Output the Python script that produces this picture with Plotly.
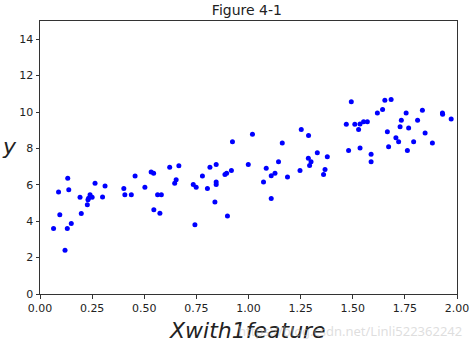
import plotly.graph_objects as go

x_vals = [0.065, 0.120, 0.131, 0.150, 0.095, 0.089, 0.133, 0.138, 0.198, 0.192,
          0.227, 0.240, 0.233, 0.250, 0.230, 0.264, 0.300, 0.312, 0.402, 0.407,
          0.438, 0.456, 0.503, 0.533, 0.545, 0.546, 0.564, 0.582, 0.575, 0.622,
          0.666, 0.653, 0.646, 0.735, 0.749, 0.743, 0.779, 0.803, 0.815, 0.845,
          0.845, 0.845, 0.839, 0.899, 0.887, 0.895, 0.918, 0.923, 0.999, 1.019,
          1.162, 1.253, 1.288, 1.085, 1.144, 1.127, 1.109, 1.072, 1.187, 1.109,
          1.247, 1.330, 1.287, 1.300, 1.293, 1.378, 1.367, 1.360, 1.493, 1.469,
          1.510, 1.535, 1.528, 1.552, 1.570, 1.480, 1.535, 1.588, 1.588, 1.618,
          1.643, 1.654, 1.684, 1.666, 1.672, 1.756, 1.733, 1.727, 1.768, 1.707,
          1.720, 1.762, 1.792, 1.811, 1.834, 1.847, 1.882, 1.930, 1.931, 1.972]
y_vals = [3.60, 2.41, 3.60, 3.87, 4.36, 5.61, 6.36, 5.73, 4.42, 5.32,
          4.91, 5.46, 5.26, 5.32, 5.18, 6.08, 5.33, 5.94, 5.80, 5.45,
          5.45, 6.49, 5.87, 6.71, 6.63, 4.63, 5.45, 5.45, 4.43, 6.97,
          7.05, 6.28, 6.09, 6.02, 5.87, 3.80, 6.49, 5.80, 6.97, 7.12,
          6.15, 6.01, 5.06, 4.29, 6.57, 6.63, 6.78, 8.36, 7.12, 8.78,
          8.29, 9.04, 8.71, 6.91, 7.26, 6.63, 6.50, 6.16, 6.43, 5.25,
          6.78, 7.76, 7.46, 7.26, 7.06, 7.54, 6.84, 6.56, 10.57, 9.33,
          9.33, 9.34, 9.04, 9.47, 9.47, 7.88, 8.02, 7.68, 7.26, 9.95,
          10.14, 10.64, 10.69, 8.91, 8.09, 9.94, 9.54, 9.19, 9.12, 8.58,
          8.36, 7.88, 8.36, 9.54, 10.09, 8.85, 8.29, 9.94, 9.87, 9.61]

x_ticks = [0.0, 0.25, 0.5, 0.75, 1.0, 1.25, 1.5, 1.75, 2.0]
x_tick_labels = ["0.00", "0.25", "0.50", "0.75", "1.00", "1.25", "1.50", "1.75", "2.00"]
y_ticks = [0, 2, 4, 6, 8, 10, 12, 14]

FONT = "DejaVu Sans"

fig = go.Figure()
fig.add_trace(go.Scatter(
    x=x_vals, y=y_vals, mode="markers",
    marker=dict(color="#0000ff", size=5, line=dict(width=0)),
    showlegend=False,
))

axis_common = dict(
    showline=True, linecolor="#333333", linewidth=1, mirror=True,
    ticks="outside", ticklen=3.5, tickwidth=1, tickcolor="#333333",
    showgrid=False, zeroline=False, automargin=False,
    tickfont=dict(family=FONT, size=11, color="#222222"),
)

fig.update_layout(
    width=473, height=344,
    margin=dict(l=40, r=16, t=21, b=50),
    paper_bgcolor="white", plot_bgcolor="white",
    title=dict(text="Figure 4-1", x=0.522, xanchor="center", y=0.97, yanchor="middle",
               font=dict(family=FONT, size=14, color="#222222")),
    xaxis=dict(range=[0, 2], tickvals=x_ticks, ticktext=x_tick_labels, **axis_common),
    yaxis=dict(range=[0, 15], tickvals=y_ticks, **axis_common),
)

fig.add_annotation(
    text="<i>Xwith1feature</i>", xref="paper", yref="paper",
    x=0.497, y=-0.132, xanchor="center", yanchor="middle", showarrow=False,
    font=dict(family=FONT, size=22, color="#222222"),
)
fig.add_annotation(
    text="<i>y</i>", xref="paper", yref="paper",
    x=-0.074, y=0.542, xanchor="center", yanchor="middle", showarrow=False,
    font=dict(family=FONT, size=22, color="#222222"),
)
fig.add_annotation(
    text="https://blog.csdn.net/Linli522362242", xref="paper", yref="paper",
    x=1.017, y=-0.136, xanchor="right", yanchor="middle", showarrow=False,
    font=dict(family="Noto Sans", size=13, color="rgba(190,190,190,0.5)"),
)

fig.write_html("out.html")
